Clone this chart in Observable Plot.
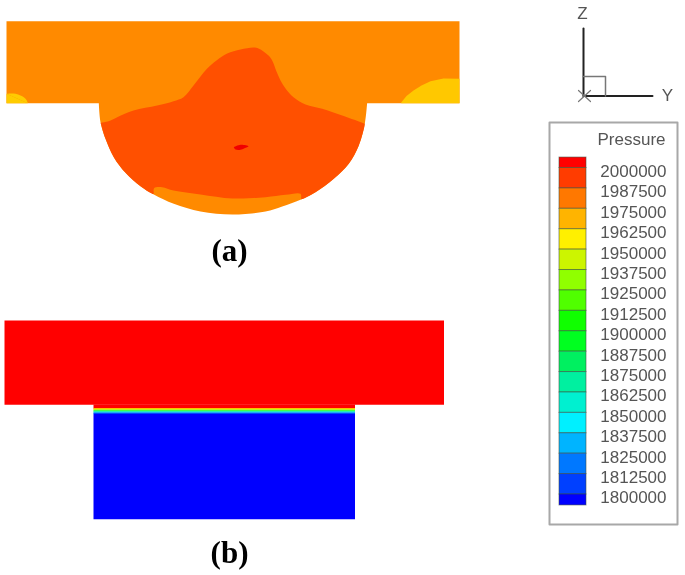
<!DOCTYPE html>
<html><head><meta charset="utf-8">
<script src="https://cdn.jsdelivr.net/npm/d3@7"></script>
<script src="https://cdn.jsdelivr.net/npm/@observablehq/plot@0.6"></script>
<style>
html,body{margin:0;padding:0;background:#fff}
#wrap{position:relative;width:685px;height:575px;overflow:hidden}
#wrap svg{position:absolute;left:0;top:0;background:transparent;filter:blur(0.4px)}
</style></head><body><div id="wrap"></div>
<script>
// Pressure legend
const levels=[2000000,1987500,1975000,1962500,1950000,1937500,1925000,1912500,1900000,1887500,1875000,1862500,1850000,1837500,1825000,1812500,1800000];
const bandColors=["#ff0000","#ff3c00","#ff7800","#ffb400","#fff000","#ccf500","#90ff00","#50ff00","#10ff00","#00ff20","#00f060","#00f0a0","#00f0d0","#00f0ff","#00b4ff","#0078ff","#0040ff","#0000ff"];
const bandEdges=[2006400,...levels,1793300];
const bands=bandColors.map((c,i)=>({color:c,hi:bandEdges[i],lo:bandEdges[i+1]}));

// Panel (a) regions
const blockA=[[6,20.7],[459,20.7],[459,102.7],[6,102.7],[6,20.7]];
const bowlA=[[98.3,102],[100,121.7],[105,138.3],[113.3,156.7],[125,172.3],[140,185.7],[153.3,194],[173.3,203.3],[200,211],[232,214],[265,211],[281.7,206],[300,199.3],[315,191.7],[333.3,178.3],[348.3,163.3],[358.3,145],[364.3,123.3],[366.7,102]];
const highA=[[100.2,122.4],[100.6,122.3],[108,120.8],[116.7,116.7],[133,110],[156.7,105],[173,100.7],[183,96.7],[193,85],[206.7,68],[216,60],[226.7,53],[240,49],[253,47],[258,48],[263,51],[268,55],[271.7,60],[276,71],[280,80],[285,88],[293,96.7],[305,104],[321.7,108.3],[341.7,115],[363.6,123],[364.1,123.3],[358.3,145],[348.3,163.3],[333.3,178.3],[315,191.7],[301,198.7],[300.7,198.3],[300,193.3],[285,194.3],[265,196.7],[232,198],[200,194],[173,190],[161.7,186.7],[153.6,187.7],[153.2,193.3],[152.9,193.6],[140,185.7],[125,172.3],[113.3,156.7],[105,138.3],[100.2,122.4]];
const peakA=[[233.3,146.7],[240,144.3],[248,145.7],[244,147.8],[240,149.3],[235,149],[233.3,146.7]];
const lowLeftA=[[6,93.3],[10,93],[15,93.3],[20,95],[23.3,96.7],[26,99.5],[27.3,102.7],[6,102.7],[6,93.3]];
const lowRightA=[[400.7,102],[406,95.5],[413,90],[421,85],[430,80.7],[443,78],[459,78.3],[459,102.7],[400.7,102.7]];

// Panel (b) regions
const blockB=[[4,320],[443.5,320],[443.5,404.3],[4,404.3],[4,320]];
const neckB=[[93,404],[354.5,404],[354.5,408],[93,408],[93,404]];
const stripesB=[
 {color:"#ffc000",pts:[[93,407.6],[354.5,407.6],[354.5,409],[93,409]]},
 {color:"#a8f800",pts:[[93,408.8],[354.5,408.8],[354.5,410],[93,410]]},
 {color:"#18ff30",pts:[[93,409.8],[354.5,409.8],[354.5,411],[93,411]]},
 {color:"#00e8c0",pts:[[93,410.8],[354.5,410.8],[354.5,412],[93,412]]},
 {color:"#0090ff",pts:[[93,411.8],[354.5,411.8],[354.5,413.4],[93,413.4]]}
];
const baseB=[[93,413],[354.5,413],[354.5,518.7],[93,518.7],[93,413]];

// Axis triad and legend frame
const axisZ=[[583,28],[583,95.5]];
const axisY=[[583,95.5],[652,95.5]];
const triadBox=[[583,76],[605,76],[605,95.5]];
const axisX1=[[578,101],[590,90]];
const axisX2=[[578,90],[590,101]];
const legendFrame=[[549,122],[677,122],[677,524],[549,524],[549,122]];
const captions=[{t:"(a)",x:229,y:251},{t:"(b)",x:229,y:553}];
const axisNames=[{t:"Z",x:582,y:13},{t:"Y",x:667,y:95}];
const legendTitle=[{t:"Pressure",x:665,y:139}];

const fillPoly=(d,c)=>Plot.line(d,{fill:c,stroke:"none",curve:"linear"});
const fillSmooth=(d,c)=>Plot.line(d,{fill:c,stroke:"none",curve:"catmull-rom"});
const main=Plot.plot({
 width:685,height:575,margin:0,
 x:{domain:[0,685],range:[0,685],axis:null},
 y:{domain:[0,575],range:[0,575],axis:null},
 marks:[
  fillSmooth(bowlA,"#ff8a00"),
  fillPoly(blockA,"#ff8a00"),
  fillSmooth(highA,"#ff5000"),
  fillSmooth(peakA,"#f00000"),
  fillSmooth(lowLeftA.slice(0,7),"#ffcc00"),
  fillPoly([lowLeftA[0],...lowLeftA.slice(6)],"#ffcc00"),
  fillPoly(lowRightA,"#ffc800"),
  fillPoly(blockB,"#ff0000"),
  fillPoly(neckB,"#ff0000"),
  ...stripesB.map(s=>fillPoly(s.pts,s.color)),
  fillPoly(baseB,"#0000ff"),
  Plot.line(axisZ,{stroke:"#222",strokeWidth:2}),
  Plot.line(axisY,{stroke:"#222",strokeWidth:2}),
  Plot.line(triadBox,{stroke:"#777",strokeWidth:1.5}),
  Plot.line(axisX1,{stroke:"#777",strokeWidth:1.2}),
  Plot.line(axisX2,{stroke:"#777",strokeWidth:1.2}),
  Plot.line(legendFrame,{stroke:"#a8a8a8",strokeWidth:2}),
  Plot.text(captions,{x:"x",y:"y",text:"t",fontFamily:"Liberation Serif",fontWeight:"bold",fontSize:31,fill:"#000"}),
  Plot.text(axisNames,{x:"x",y:"y",text:"t",fontFamily:"Liberation Sans",fontSize:17,fill:"#555"}),
  Plot.text(legendTitle,{x:"x",y:"y",text:"t",textAnchor:"end",fontFamily:"Liberation Sans",fontSize:17,fill:"#555"})
 ]
});
const legend=Plot.plot({
 width:685,height:575,margin:0,
 x:{domain:[0,685],range:[0,685],axis:null},
 y:{domain:[2000000,1800000],range:[167.5,494],axis:null},
 marks:[
  Plot.rect(bands,{x1:()=>559,x2:()=>586,y1:"hi",y2:"lo",fill:"color",stroke:"#3a4a3a",strokeOpacity:0.55,strokeWidth:1}),
  Plot.text(levels,{x:()=>666,y:d=>d,dy:3.5,text:d=>String(d),textAnchor:"end",fontFamily:"Liberation Sans",fontSize:17,fill:"#555"})
 ]
});
const w=document.getElementById("wrap");
w.append(main,legend);
</script></body></html>
